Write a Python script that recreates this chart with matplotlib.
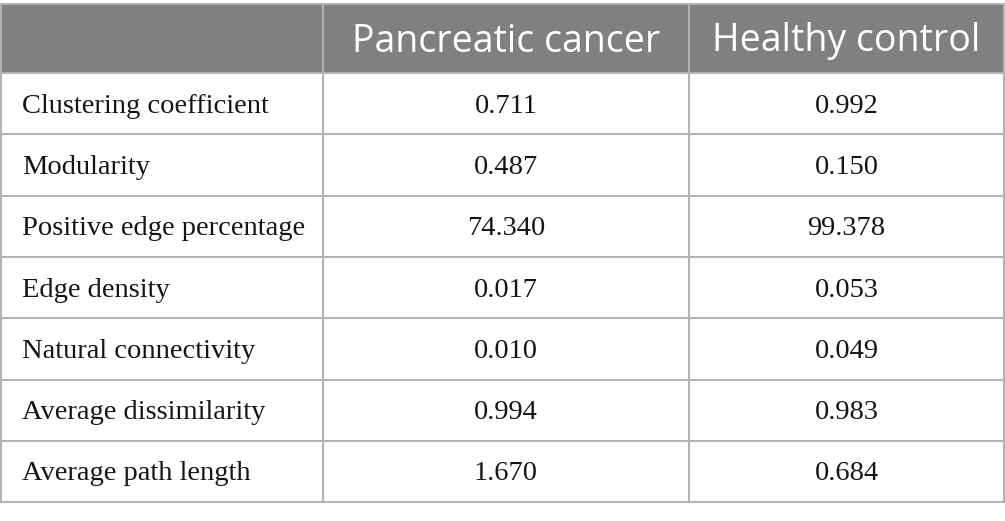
import matplotlib.pyplot as plt
from matplotlib.patches import Rectangle

# Table data
columns = ["", "Pancreatic cancer", "Healthy control"]
metrics = ["Clustering coefficient", "Modularity", "Positive edge percentage",
           "Edge density", "Natural connectivity", "Average dissimilarity",
           "Average path length"]
pancreatic = [0.711, 0.487, 74.340, 0.017, 0.010, 0.994, 1.670]
healthy = [0.992, 0.150, 99.378, 0.053, 0.049, 0.983, 0.684]

W, H = 1005, 521
fig = plt.figure(figsize=(W / 100, H / 100), dpi=100)
ax = fig.add_axes([0, 0, 1, 1])
ax.set_xlim(0, W)
ax.set_ylim(H, 0)
ax.axis("off")

col_x = [1, 323, 689, 1004]
top = 4
header_h = 69
row_h = 61.3
line_col = "#b3b3b3"

# header background
ax.add_patch(Rectangle((col_x[0], top), col_x[-1] - col_x[0], header_h,
                       facecolor="#808080", edgecolor="none", zorder=1))

bottom = top + header_h + row_h * len(metrics)
# grid lines
ys = [top, top + header_h] + [top + header_h + row_h * (i + 1) for i in range(len(metrics))]
for y in ys:
    ax.plot([col_x[0], col_x[-1]], [y, y], color=line_col, lw=1.5, zorder=2)
for x in col_x:
    ax.plot([x, x], [top, bottom], color=line_col, lw=1.5, zorder=2)

# header text
for j in (1, 2):
    ax.text((col_x[j] + col_x[j + 1]) / 2, top + header_h / 2 + 3, columns[j],
            ha="center", va="center", color="white", fontsize=27,
            family="Open Sans", zorder=3)

body = dict(va="center", fontsize=20.5, family="Liberation Serif",
            color="#151515", zorder=3)
for i, name in enumerate(metrics):
    yc = top + header_h + row_h * (i + 0.5) + 2.5
    ax.text(22, yc, name, ha="left", **body)
    ax.text((col_x[1] + col_x[2]) / 2, yc, f"{pancreatic[i]:.3f}", ha="center", **body)
    ax.text((col_x[2] + col_x[3]) / 2, yc, f"{healthy[i]:.3f}", ha="center", **body)

fig.savefig("out.png", dpi=100)
